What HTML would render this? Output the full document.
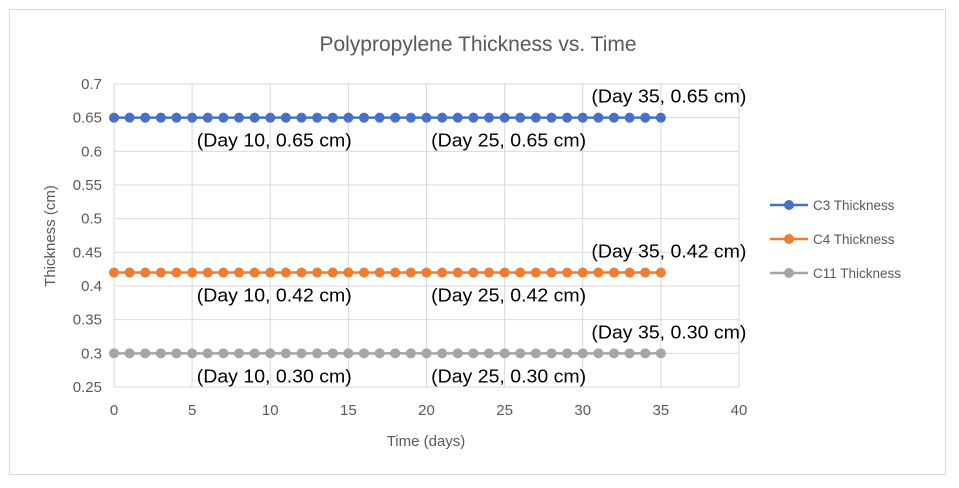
<!DOCTYPE html>
<html><head><meta charset="utf-8"><style>
body{margin:0;background:#fff;font-family:"Liberation Sans",sans-serif}
</style></head><body>
<svg id="chart" width="959" height="483" xmlns="http://www.w3.org/2000/svg">
<rect x="9.5" y="9.5" width="936" height="465" fill="#fff" stroke="#d9d9d9"/>
<text x="478" y="51" text-anchor="middle" font-size="21" fill="#595959">Polypropylene Thickness vs. Time</text>
<g id="grid"></g><g id="series"></g><g id="labels"></g>
<text x="426" y="446" text-anchor="middle" font-size="15" fill="#595959">Time (days)</text>
<text transform="translate(55,236) rotate(-90)" text-anchor="middle" font-size="15" fill="#595959">Thickness (cm)</text>
<g id="legend"></g>
</svg>
<script>
const xTicks=[0,5,10,15,20,25,30,35,40];
const yTicks=[0.25,0.3,0.35,0.4,0.45,0.5,0.55,0.6,0.65,0.7];
const seriesNames=["C3 Thickness","C4 Thickness","C11 Thickness"];
const seriesColors=["#4472c4","#ed7d31","#a5a5a5"];
const days=Array.from({length:36},(_,i)=>i);
const c3=days.map(()=>0.65);
const c4=days.map(()=>0.42);
const c11=days.map(()=>0.30);
const seriesValues=[c3,c4,c11];
const labelDays=[10,25,35];
const NS="http://www.w3.org/2000/svg";
const X=d=>114+d*(739-114)/40;
const Y=v=>387-(v-0.25)*(387-84)/0.45;
function mk(tag,attrs,parent){const e=document.createElementNS(NS,tag);for(const k in attrs)e.setAttribute(k,attrs[k]);parent.appendChild(e);return e;}
const grid=document.getElementById('grid'),ser=document.getElementById('series'),lab=document.getElementById('labels'),leg=document.getElementById('legend');
yTicks.forEach(t=>{const l=mk('line',{x1:114,x2:739,y1:Y(t),y2:Y(t),stroke:'#d9d9d9'},grid);


const tx=mk('text',{x:102,y:Y(t)+5,'text-anchor':'end','font-size':15,fill:'#595959'},grid);tx.textContent=String(t);

});
xTicks.forEach(t=>{const l=mk('line',{x1:X(t),x2:X(t),y1:84,y2:387,stroke:'#d9d9d9'},grid);


const tx=mk('text',{x:X(t),y:415,'text-anchor':'middle','font-size':15,fill:'#595959'},grid);tx.textContent=String(t);

});
seriesValues.forEach((vals,s)=>{const g=mk('g',{},ser);


mk('polyline',{points:days.map((d,i)=>X(d)+','+Y(vals[i])).join(' '),fill:'none',stroke:seriesColors[s],'stroke-width':2.5},g);
days.forEach((d,i)=>{const c=mk('circle',{cx:X(d),cy:Y(vals[i]),r:5,fill:seriesColors[s]},g);

});
labelDays.forEach(ld=>{const i=days.indexOf(ld),v=vals[i];const last=ld===35;
const t=mk('text',{x:last?X(ld)+8:X(ld)+4,y:last?Y(v)-15:Y(v)+29,'text-anchor':'middle','font-size':18.5,textLength:155,lengthAdjust:'spacingAndGlyphs',fill:'#000'},lab);
t.textContent='(Day '+ld+', '+v.toFixed(2)+' cm)';

});
const ly=205+s*34;
const lg=mk('g',{},leg);


mk('line',{x1:770,x2:808,y1:ly,y2:ly,stroke:seriesColors[s],'stroke-width':2.5},lg);
mk('circle',{cx:789,cy:ly,r:5,fill:seriesColors[s]},lg);
const lt=mk('text',{x:813,y:ly+5,'font-size':13.5,fill:'#595959'},lg);lt.textContent=seriesNames[s];});
</script>
</body></html>
